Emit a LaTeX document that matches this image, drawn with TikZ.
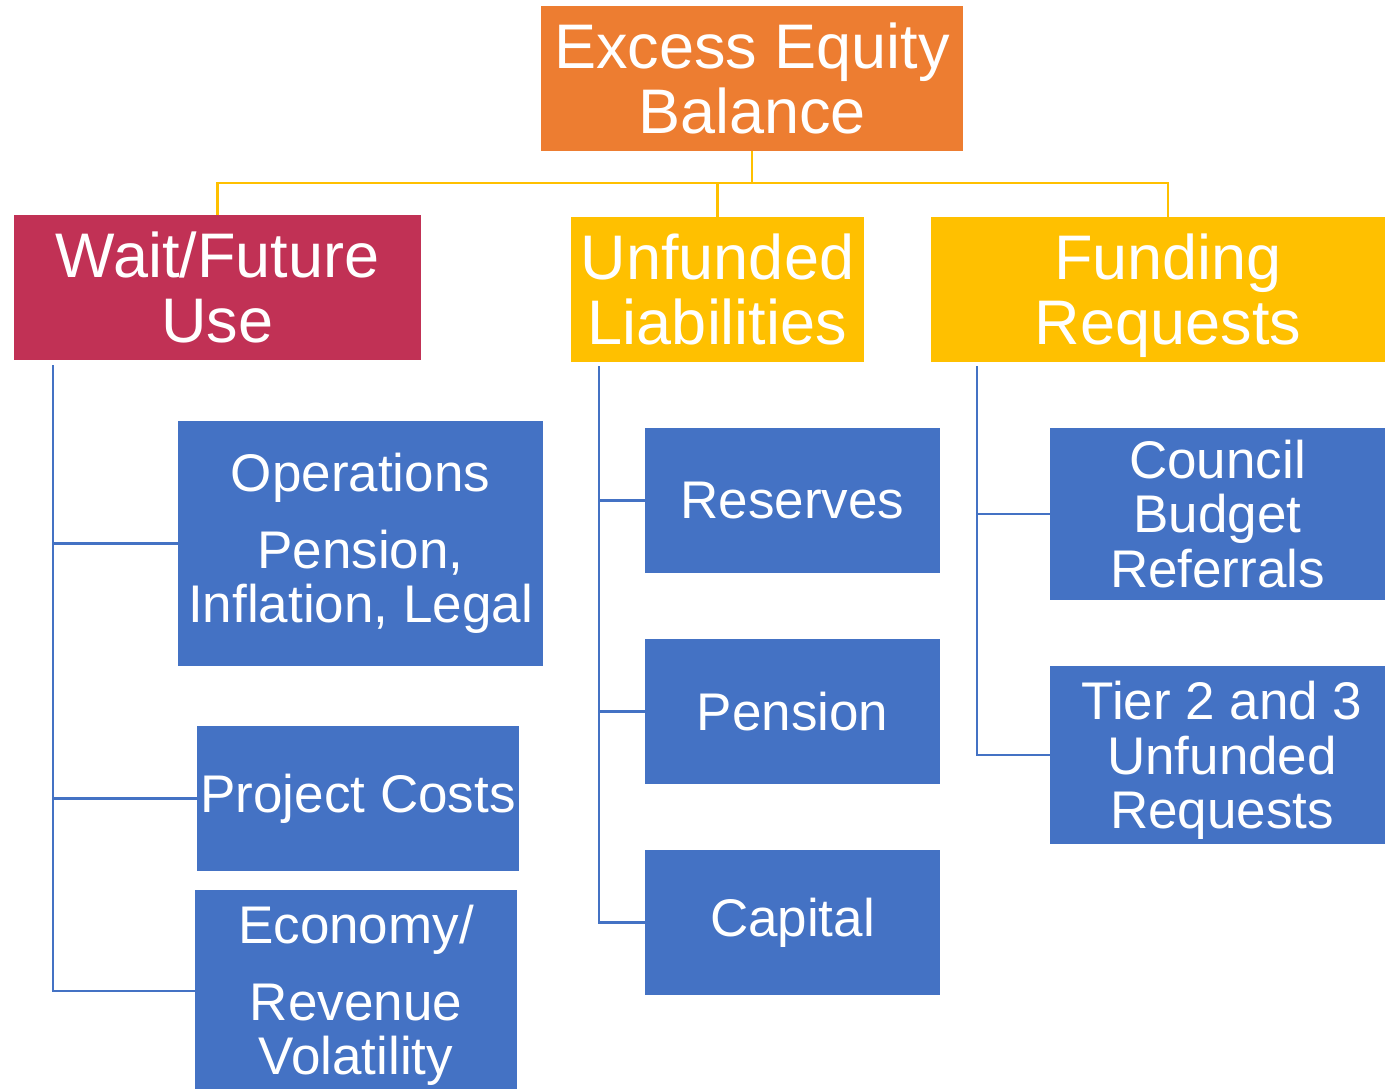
\documentclass[tikz,border=0pt]{standalone}
\usepackage{fontspec}
\setmainfont{Liberation Sans}
\definecolor{eqorange}{HTML}{ED7D31}
\definecolor{eqred}{HTML}{C13155}
\definecolor{eqgold}{HTML}{FFC000}
\definecolor{eqblue}{HTML}{4472C4}
\begin{document}
\begin{tikzpicture}
[
    x=0.5pt, y=-0.5pt,
    box/.style={rectangle, inner sep=0pt, align=center, text=white},
    headbox/.style={box, minimum height=72.5pt, font=\fontsize{31.5pt}{32.5pt}\selectfont},
    leafbox/.style={box, fill=eqblue, font=\fontsize{26.5pt}{27.3pt}\selectfont},
    goldline/.style={draw=eqgold, line width=1.1pt},
    blueline/.style={draw=eqblue, line width=1.1pt},
]
\clip (0,0) rectangle (1385,1088);
\node [headbox, fill=eqorange, minimum width=211pt] (root) at (752,78.5) {Excess Equity\\Balance};
\node [headbox, fill=eqred, minimum width=203.5pt] (wait) at (217.5,287.5) {Wait/Future\\Use};
\node [headbox, fill=eqgold, minimum width=146.5pt] (unf) at (717.5,289.5) {Unfunded\\Liabilities};
\node [headbox, fill=eqgold, minimum width=237pt] (fund) at (1168,289.5) {Funding\\\smash{Requests}};
\node [leafbox, minimum width=182.5pt, minimum height=122.5pt] (ops) at (360.5,543.5)
    {Operations\\[11pt]Pension,\\Inflation, Legal};
\node [leafbox, minimum width=161pt, minimum height=72.5pt] (proj) at (358,798.5) {Project Costs};
\node [leafbox, minimum width=161pt, minimum height=105.5pt] (econ) at (356,995.5)
    {Economy/\\[11pt]Revenue\\Volatility};
\node [leafbox, minimum width=147.5pt, minimum height=72.5pt] (res) at (792.5,500.5) {Reserves};
\node [leafbox, minimum width=147.5pt, minimum height=72.5pt] (pen) at (792.5,711.5) {Pension};
\node [leafbox, minimum width=147.5pt, minimum height=72.5pt] (cap) at (792.5,922.5) {Capital};
\node [leafbox, minimum width=167.5pt, minimum height=86pt] (coun) at (1217.5,514) {Council\\Budget\\Referrals};
\node [leafbox, minimum width=172pt, minimum height=89pt] (tier) at (1222,755) {Tier 2 and 3\\Unfunded\\\smash{Requests}};
\coordinate (bus) at (752,183);
\coordinate (w0) at (53,365);
\coordinate (u0) at (599,366);
\coordinate (f0) at (977,366);
\draw [goldline] (root.south) -- (bus) -| (wait.north);
\draw [goldline] (bus) -| (unf.north);
\draw [goldline] (bus) -| (fund.north);
\draw [blueline] (w0) |- (ops.west);
\draw [blueline] (w0) |- (proj.west);
\draw [blueline] (w0) |- ([yshift=2.25pt]econ.west);
\foreach \n in {res,pen,cap} \draw [blueline] (u0) |- (\n.west);
\foreach \n in {coun,tier} \draw [blueline] (f0) |- (\n.west);
\end{tikzpicture}
\end{document}
